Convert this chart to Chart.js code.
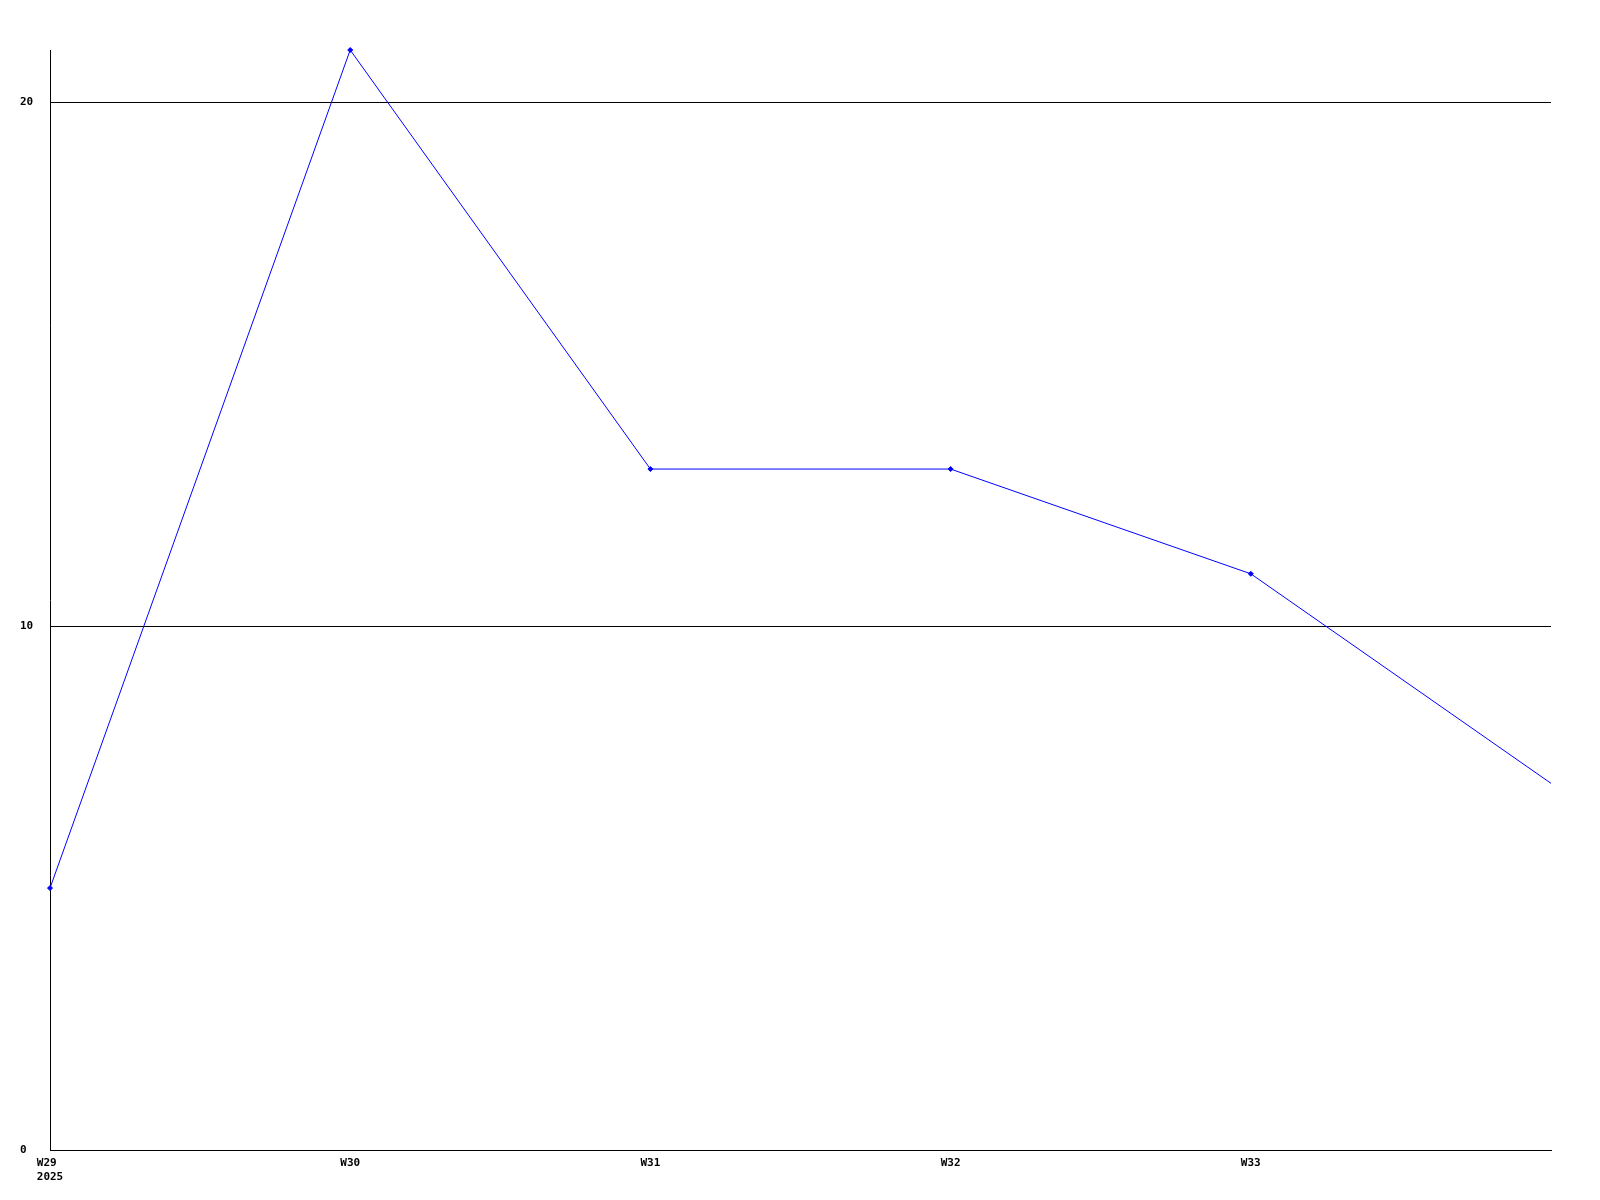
<!DOCTYPE html>
<html>
<head>
<meta charset="utf-8">
<script src="https://cdn.jsdelivr.net/npm/chart.js@4/dist/chart.umd.min.js"></script>
<style>
  html,body{margin:0;padding:0;background:#fff}
  #wrap{width:1600px;height:1200px;position:relative}
</style>
</head>
<body>
<div id="wrap"><canvas id="c"></canvas></div>
<script>
/* 주간 추이 — 값은 그림에서 읽은 값 */
const WEEKS  = ['W29', 'W30', 'W31', 'W32', 'W33', ''];
const YEARS  = ['2025', '', '', '', '', ''];
const VALUES = [5, 21, 13, 13, 11, 7];
const MARKER = [2.5, 2.5, 2.5, 2.5, 2.5, 0];   // 마지막 점은 표시 없음

const Y_MAX = 21;
const Y_STEP = 10;
const FONT = { family: "'DejaVu Sans Mono', 'Liberation Mono', monospace", size: 11, weight: 'bold' };

const labels = WEEKS.map((w, i) => YEARS[i] ? [w + ' ', YEARS[i]] : w);

new Chart(document.getElementById('c'), {
  type: 'line',
  data: {
    labels,
    datasets: [{
      data: VALUES,
      borderColor: '#0000FF', backgroundColor: '#0000FF',
      borderWidth: 1, tension: 0, fill: false, clip: false,
      pointStyle: 'rectRot', pointRadius: MARKER, pointHoverRadius: 0, pointBorderWidth: 1
    }]
  },
  options: {
    responsive: true, maintainAspectRatio: false, animation: false,
    layout: { padding: { left: 20, right: 49, top: 50, bottom: 0 } },
    plugins: { legend: { display: false }, tooltip: { enabled: false } },
    scales: {
      x: {
        offset: false,
        grid: { display: false },
        border: { display: true, color: '#000', width: 1 },
        ticks: { color: '#000', font: FONT, padding: -1, maxRotation: 0, autoSkip: false },
        afterFit: s => { s.height = 50; }
      },
      y: {
        min: 0, max: Y_MAX,
        grid: { color: '#000', lineWidth: 1, drawTicks: false },
        border: { display: true, color: '#000', width: 1 },
        ticks: { stepSize: Y_STEP, includeBounds: false, color: '#000', font: FONT, crossAlign: 'far', padding: 0 },
        afterFit: s => { s.width = 30; }
      }
    }
  }
});
</script>
</body>
</html>
